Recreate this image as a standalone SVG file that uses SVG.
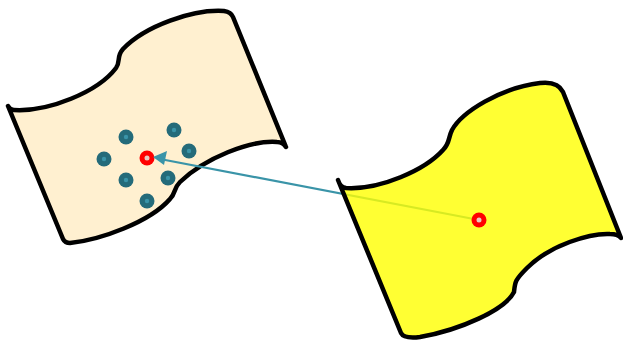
<svg xmlns="http://www.w3.org/2000/svg" width="623" height="347" viewBox="0 0 623 347">
<style>
.shape{stroke:#000;stroke-width:4.5;stroke-linejoin:round;stroke-linecap:round}
.dot{fill:#246b7a}
.dotc{fill:#3a94a8}
.ring{fill:#ff0000}
.ringc{fill:#e8c8c0}
</style>
<g id="beige">
<path class="shape" fill="#fff0d0" d="M8,106 Q10,110 14,110 C48,112 98,92 116,68 C121,61 116,57 123,49 C145,26 193,9 224,11 Q231,12 233,17 L286,147 Q283,142 277,142 C250,140 205,158 180,182 C173,189 176,193 170,199 C150,222 100,240 70,243 Q65,243 63,239 Z"/>
<circle class="dot" cx="126" cy="137" r="7.5"/><circle class="dotc" cx="126" cy="137" r="2.2"/>
<circle class="dot" cx="174" cy="130" r="7.5"/><circle class="dotc" cx="174" cy="130" r="2.2"/>
<circle class="dot" cx="104" cy="159" r="7.5"/><circle class="dotc" cx="104" cy="159" r="2.2"/>
<circle class="dot" cx="189" cy="151" r="7.5"/><circle class="dotc" cx="189" cy="151" r="2.2"/>
<circle class="dot" cx="126" cy="180" r="7.5"/><circle class="dotc" cx="126" cy="180" r="2.2"/>
<circle class="dot" cx="168" cy="178" r="7.5"/><circle class="dotc" cx="168" cy="178" r="2.2"/>
<circle class="dot" cx="147" cy="201" r="7.5"/><circle class="dotc" cx="147" cy="201" r="2.2"/>
<circle class="ring" cx="147" cy="158" r="7.5"/><circle class="ringc" cx="147" cy="158" r="2.5"/>
</g>
<g id="connectors">
<line x1="479" y1="220" x2="160" y2="159" stroke="#3a94a8" stroke-width="2.2"/>
<path d="M153,157 L167,151 L164,165 Z" fill="#3a94a8"/>
</g>
<g id="yellow">
<path class="shape" fill="#ffff00" fill-opacity="0.8" d="M338,180 Q340,187 346,188 C380,190 425,170 443,150 C450,143 448,138 452,130 C462,112 500,88 540,83 Q558,81 563,92 L621,238 Q618,234 610,234 C590,233 550,245 527,268 C515,280 515,282 514,292 C505,310 460,330 420,337 Q404,339 401,333 Z"/>
<circle class="ring" cx="479" cy="220" r="7.5"/><circle class="ringc" cx="479" cy="220" r="2.5"/>
</g>
</svg>
